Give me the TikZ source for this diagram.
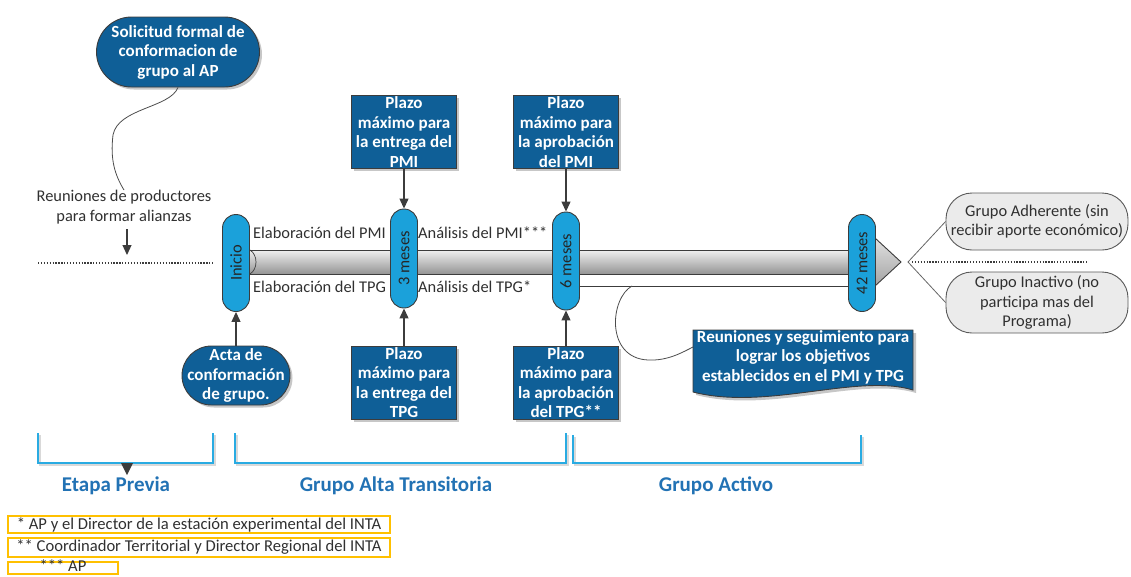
\documentclass[tikz,border=0pt]{standalone}
\usepackage{fontspec}
\setmainfont{Carlito}
\usetikzlibrary{arrows.meta,shadows,calc}
\definecolor{dblue}{HTML}{0F5F97}
\definecolor{pblue}{HTML}{1BA1DA}
\definecolor{brblue}{HTML}{29ABE2}
\definecolor{lblue}{HTML}{2272B4}
\definecolor{gold}{HTML}{FFC000}
\definecolor{lgray}{HTML}{EBEBEB}
\definecolor{edge}{HTML}{3C3C3C}
\definecolor{tgray}{HTML}{303030}
\begin{document}
\begin{tikzpicture}[x=1pt,y=-1pt,
  txt/.style={font=\fontsize{16.4}{19.5}\selectfont, align=center, inner sep=0pt, text=tgray},
  btxt/.style={font=\fontsize{17}{19.5}\selectfont\bfseries, align=center, inner sep=0pt, text=white},
  shad/.style={drop shadow={shadow xshift=2.5pt, shadow yshift=-2.5pt, fill=black!22, opacity=1}},
  bluebox/.style={btxt, draw=edge, line width=0.9pt, fill=dblue, minimum width=105, minimum height=73, shad},
  oval/.style={btxt, draw=edge, line width=0.9pt, fill=dblue, shad},
  pill/.style={txt, text=black!85, draw=edge, line width=0.9pt, fill=pblue, rotate=90, minimum height=27, rounded corners=13.5pt},
  grayoval/.style={txt, draw=black!65, line width=0.9pt, fill=lgray, minimum width=182, rounded corners=26pt},
  arr/.style={edge, line width=1.2pt, -{Triangle[length=10pt,width=9pt]}},
  thin/.style={black!60, line width=0.8pt},
  brk/.style={brblue, line width=1.6pt},
  brks/.style={black!15, line width=1.6pt},
  grp/.style={font=\fontsize{21}{24}\selectfont\bfseries, text=lblue, inner sep=0pt},
  fn/.style={font=\fontsize{16.6}{19}\selectfont, text=tgray, inner sep=0pt},
  fnbox/.style={gold, line width=1.3pt},
  dots/.style={edge, line width=1.3pt, dash pattern=on 1.3pt off 1.6pt}
]
\useasboundingbox (0,0) rectangle (1131,576);

% --- Etapa previa ---
\node[oval, minimum width=163, minimum height=70, rounded corners=35pt] (sol) at (178,52) {Solicitud formal de\\conformacion de\\grupo al AP};
\node[txt] (reu) at (124,207) {Reuniones de productores\\para formar alianzas};
\draw[thin, black!70] (sol.south) .. controls (170,108) and (118,108) .. (113,135) .. controls (110,160) and (115,175) .. (reu.north);
\coordinate (ra) at (127,229);
\coordinate (rb) at (127,255);
\draw[arr] (ra) -- (rb);
\coordinate (dl1) at (38,263);
\coordinate (dl2) at (214,263);
\draw[dots] (dl1) -- (dl2);

% --- bar ---
\coordinate (bar1) at (250,250);
\coordinate (bar2) at (862,274);
\shade[top color=black!6, bottom color=black!42, draw=edge, line width=0.9pt] (862,226) -- (901,262) -- (862,298) -- cycle;
\shade[top color=black!6, bottom color=black!42] (bar1) rectangle (bar2);
\draw[edge, line width=0.9pt] (250,250) -- (862,250);
\draw[edge, line width=0.9pt] (250,274) -- (862,274);
\draw[edge, line width=0.7pt] (250,250) .. controls (258,255) and (258,269) .. (250,274);

% --- pills ---
\node[pill, minimum width=97] (p1) at (236,263) {Inicio};
\node[pill, minimum width=99] (p3) at (404,258.5) {3 meses};
\node[pill, minimum width=98] (p6) at (566,261) {6 meses};
\node[pill, minimum width=97] (p42) at (862,263) {42 meses};
\draw[edge, line width=0.9pt] (p6.south |- 0,286) coordinate (ll1) -- (p42.north |- 0,286) coordinate (ll2);

% --- bar labels ---
\node[txt, anchor=west] (e1) at (253,233) {Elaboración del PMI};
\node[txt, anchor=west] (e2) at (253,287) {Elaboración del TPG};
\node[txt, anchor=west] (a1) at (418,233) {Análisis del PMI***};
\node[txt, anchor=west] (a2) at (418,287) {Análisis del TPG*};

% --- blue boxes ---
\node[bluebox] (b1) at (404,132) {Plazo\\máximo para\\la entrega del\\PMI};
\node[bluebox] (b2) at (566,132) {Plazo\\máximo para\\la aprobación\\del PMI};
\node[bluebox] (b3) at (404,382.5) {Plazo\\máximo para\\la entrega del\\TPG};
\node[bluebox] (b4) at (566,382.5) {Plazo\\máximo para\\la aprobación\\del TPG**};
\node[oval, minimum width=108, minimum height=59, rounded corners=29.5pt] (acta) at (236,375.5) {Acta de\\conformación\\de grupo.};

\draw[arr] (b1) -- (p3);
\draw[arr] (b2) -- (p6);
\draw[arr] (b3) -- (p3);
\draw[arr] (b4) -- (p6);
\draw[arr] (acta) -- (p1);

% --- document shape ---
\fill[black!22] (696,333) -- (916,333) -- (916,393) .. controls (860,376) and (770,414) .. (696,395) -- cycle;
\filldraw[fill=dblue, draw=edge, line width=0.9pt] (693,330) -- (913,330) -- (913,390) .. controls (857,373) and (767,411) .. (693,392) -- cycle;
\node[btxt] (seg) at (803,357) {Reuniones y seguimiento para\\lograr los objetivos\\establecidos en el PMI y TPG};
\coordinate (cs) at (632,286);
\coordinate (ce) at (693,347);
\draw[thin, black!70] (cs) .. controls (610,298) and (605,358) .. (648,360) .. controls (668,361) and (683,352) .. (ce);

% --- outcomes ---
\node[grayoval, minimum height=57] (adh) at (1037,221.5) {Grupo Adherente (sin\\recibir aporte económico)};
\node[grayoval, minimum height=61] (ina) at (1037,302.5) {Grupo Inactivo (no\\participa mas del\\Programa)};
\coordinate (apex) at (908,262);
\draw[thin] (adh.west) -- (apex) -- (ina.west);
\coordinate (dr2) at (1088,262);
\draw[dots] (912,262) coordinate (dr1) -- (dr2);

% --- brackets ---
\draw[brks] (40,435) |- (215,465) -- (215,435);
\draw[brks] (237,435) |- (568,465) -- (568,435);
\draw[brks] (575,437) |- (863,465) -- (863,437);
\draw[brk] (38,433) |- (213,463) -- (213,433);
\draw[brk] (235,433) |- (566,463) -- (566,433);
\draw[brk] (573,435) |- (861,463) -- (861,435);
\fill[edge] (121,463) -- (133,463) -- (127,475) -- cycle;
\node[grp] (g1) at (116,486) {Etapa Previa};
\node[grp] (g2) at (396,486) {Grupo Alta Transitoria};
\node[grp] (g3) at (716,486) {Grupo Activo};

% --- footnotes ---
\draw[fnbox] (8,516) rectangle (390,533);
\draw[fnbox] (8,538) rectangle (390,557);
\draw[fnbox] (8,562) rectangle (118,574);
\node[fn] (f1) at (199,524.5) {* AP y el Director de la estación experimental del INTA};
\node[fn] (f2) at (199,547) {** Coordinador Territorial y Director Regional del INTA};
\node[fn] (f3) at (63,566) {*** AP};
\end{tikzpicture}
\end{document}
